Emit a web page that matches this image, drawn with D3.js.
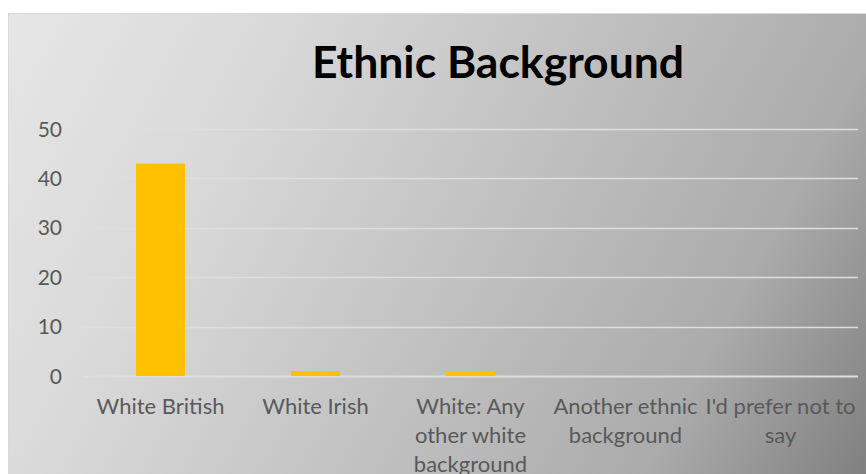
<!DOCTYPE html>
<html>
  <head>
    <meta charset="utf-8">
    <title>Ethnic Background</title>
    <style>
      body { margin: 0; background: white; }
      text { font-family: Lato, "Open Sans", sans-serif; }
    </style>
  </head>
  <body>
    <svg width="866" height="474"></svg>
    <script src="https://d3js.org/d3.v7.min.js"></script>
    <script type="application/javascript">
      const categories = [
        ['White British'],
        ['White Irish'],
        ['White: Any', 'other white', 'background'],
        ['Another ethnic', 'background'],
        ["I'd prefer not to", 'say']
      ];
      const values = [43, 1, 1, 0, 0];
      const yTicks = [0, 10, 20, 30, 40, 50];

      const svg = d3.select('svg');
      const width = +svg.attr('width');
      const height = +svg.attr('height');

      const margin = {top: 129, right: 8, bottom: 98, left: 83};

      const grad = svg.append('defs')
        .append('linearGradient')
          .attr('id', 'bg')
          .attr('gradientUnits', 'userSpaceOnUse')
          .attr('x1', 8).attr('y1', 13)
          .attr('x2', width).attr('y2', height);
      [[0, '#e6e6e6'], [0.25, '#d9d9d9'], [0.5, '#c4c4c4'], [0.8, '#ababab'], [1, '#808080']]
        .forEach(([o, c]) => grad.append('stop').attr('offset', o).attr('stop-color', c));

      svg.append('rect')
        .attr('x', 8.5).attr('y', 13.5)
        .attr('width', width).attr('height', height)
        .attr('fill', 'url(#bg)')
        .attr('stroke', '#d9d9d9');

      const x = d3.scaleBand()
        .domain(d3.range(categories.length))
        .range([margin.left, width - margin.right])
        .paddingInner(0.684)
        .paddingOuter(0.342);

      const y = d3.scaleLinear()
        .domain([0, 50])
        .range([height - margin.bottom, margin.top]);

      // gridlines
      svg.append('g')
        .selectAll('line')
        .data(yTicks)
        .enter()
          .append('line')
          .attr('x1', margin.left)
          .attr('x2', width - margin.right)
          .attr('y1', d => Math.round(y(d)) + 0.5)
          .attr('y2', d => Math.round(y(d)) + 0.5)
          .attr('stroke', '#dedede')
          .attr('stroke-width', d => d === 0 ? 2 : 1.3);

      // y labels
      svg.append('g')
        .selectAll('text')
        .data(yTicks)
        .enter()
          .append('text')
          .attr('x', 62)
          .attr('y', d => y(d))
          .attr('dy', '0.36em')
          .attr('text-anchor', 'end')
          .attr('fill', '#595959')
          .style('font-size', '21px')
          .text(d => d);

      // bars
      svg.append('g')
        .selectAll('rect')
        .data(values)
        .enter()
          .append('rect')
          .attr('x', (d, i) => x(i))
          .attr('width', x.bandwidth())
          .attr('y', d => y(d))
          .attr('height', d => y(0) - y(d))
          .attr('fill', '#ffc000');

      // x labels
      const labels = svg.append('g')
        .selectAll('text')
        .data(categories)
        .enter()
          .append('text')
          .attr('text-anchor', 'middle')
          .attr('fill', '#595959')
          .style('font-size', '22px');

      labels.selectAll('tspan')
        .data((d, i) => d.map(line => ({line, i})))
        .enter()
          .append('tspan')
          .attr('x', d => x(d.i) + x.bandwidth() / 2)
          .attr('y', (d, j) => 414 + j * 29)
          .text(d => d.line);

      // title
      svg.append('text')
        .attr('x', 498)
        .attr('y', 78)
        .attr('text-anchor', 'middle')
        .attr('fill', '#000')
        .style('font-size', '44.5px')
        .style('font-weight', 'bold')
        .text('Ethnic Background');
    </script>
  </body>
</html>
